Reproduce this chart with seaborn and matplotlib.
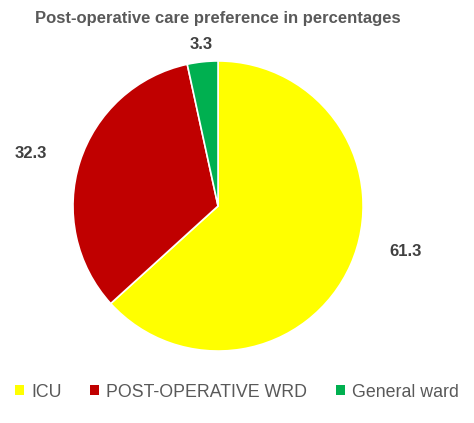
import numpy as np
import matplotlib
matplotlib.use("Agg")
import matplotlib.pyplot as plt
import seaborn as sns

# --- dados ---
categorias = ["ICU", "POST-OPERATIVE WRD", "General ward"]
valores = [61.3, 32.3, 3.3]
cores = ["#FFFF00", "#C00000", "#00B050"]
titulo = "Post-operative care preference in percentages"

sns.set_theme(style="white")
plt.rcParams["font.family"] = ["Liberation Sans", "DejaVu Sans"]

fig = plt.figure(figsize=(4.74, 4.23), dpi=100)
ax = fig.add_axes([0.154, 0.170, 0.612, 0.686])

wedges, _ = ax.pie(
    valores,
    colors=cores,
    startangle=90,
    counterclock=False,
    radius=1.0,
    wedgeprops={"edgecolor": "white", "linewidth": 1.2},
)
ax.set_xlim(-1, 1)
ax.set_ylim(-1, 1)
ax.set_aspect("equal")

# rótulos fora das fatias (posição "best fit" aproximada)
distancias = [1.33, 1.34, 1.12]
ajuste_angulo = [10.1, 2.2, 0.0]
for w, v, d, da in zip(wedges, valores, distancias, ajuste_angulo):
    ang = np.deg2rad((w.theta1 + w.theta2) / 2 + da)
    ax.text(d * np.cos(ang), d * np.sin(ang), f"{v:.1f}",
            ha="center", va="center", fontsize=12, fontweight="bold",
            color="#404040")

fig.text(218 / 474, 1 - 18 / 423, titulo, ha="center", va="center",
         fontsize=12, fontweight="bold", color="#595959")

leg = fig.legend(
    wedges, categorias, loc="center", ncol=3,
    bbox_to_anchor=(237 / 474, 1 - 392 / 423),
    frameon=False, fontsize=12.8, handlelength=0.5, handleheight=0.5,
    handletextpad=0.4, columnspacing=1.6,
)
for t in leg.get_texts():
    t.set_color("#595959")
for h in leg.legend_handles:
    h.set_edgecolor("none")

fig.savefig("out.png", dpi=100)
